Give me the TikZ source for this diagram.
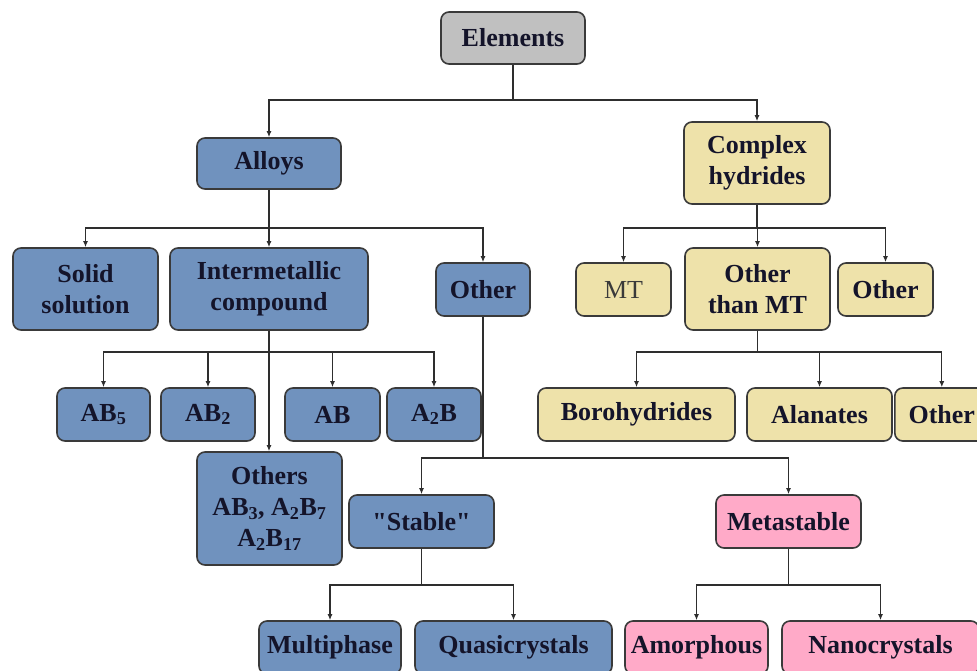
\documentclass[tikz,border=0pt]{standalone}
\usepackage{fontspec}
\setmainfont{Liberation Serif}
\usetikzlibrary{arrows.meta}
\definecolor{bluefill}{HTML}{7092BE}
\definecolor{yelfill}{HTML}{EEE2AA}
\definecolor{pinkfill}{HTML}{FFAAC8}
\definecolor{grayfill}{HTML}{C0C0C0}
\definecolor{edgecol}{HTML}{3A3A3A}
\definecolor{linecol}{HTML}{2E2E2E}
\definecolor{txtcol}{HTML}{14142A}
\tikzset{
  box/.style={draw=edgecol, line width=1.6pt, rounded corners=8pt, align=center,
    inner sep=0pt, text=txtcol, font=\bfseries\fontsize{26}{31}\selectfont},
  bluebox/.style={box, fill=bluefill},
  yelbox/.style={box, fill=yelfill},
  pinkbox/.style={box, fill=pinkfill},
  graybox/.style={box, fill=grayfill},
  conn/.style={draw=linecol, line width=1.3pt},
  arr/.style={conn, -{Latex[length=6pt,width=5pt]}},
  sz/.style 2 args={minimum width=#1pt, minimum height=#2pt}
}
\begin{document}
\begin{tikzpicture}[x=1pt,y=-1pt]
\useasboundingbox (0,0) rectangle (977,670);
\clip (0,0) rectangle (977,670);
\fill[white] (0,0) rectangle (977,670);

% level 0
\node[graybox, sz={144}{52}] (el) at (513,38) {Elements};
% level 1
\node[bluebox, sz={144}{51}] (alloys) at (269,163.5) {Alloys};
\node[yelbox, sz={146}{82}] (ch) at (757,163) {Complex\\hydrides};
% level 2 left
\node[bluebox, sz={145}{82}] (solid) at (85.5,289) {Solid\\solution};
\node[bluebox, sz={198}{82}] (inter) at (269,289) {Intermetallic\\compound};
\node[bluebox, sz={94}{53}] (otherA) at (483,289.5) {Other};
% level 2 right
\node[yelbox, sz={95}{53}, font=\mdseries\fontsize{26}{31}\selectfont, text=edgecol] (mt) at (623.5,289.5) {MT};
\node[yelbox, sz={145}{82}] (otmt) at (757.5,289) {Other\\than MT};
\node[yelbox, sz={95}{53}] (otherB) at (885.5,289.5) {Other};
% level 3 left
\node[bluebox, sz={93}{53}] (ab5) at (103.5,414.5) {AB\textsubscript{5}};
\node[bluebox, sz={94}{53}] (ab2) at (208,414.5) {AB\textsubscript{2}};
\node[bluebox, sz={95}{53}] (ab) at (332.5,414.5) {AB};
\node[bluebox, sz={94}{53}] (a2b) at (434,414.5) {A\textsubscript{2}B};
\node[bluebox, sz={145}{113}] (others) at (269.5,508.5) {Others\\AB\textsubscript{3}, A\textsubscript{2}B\textsubscript{7}\\A\textsubscript{2}B\textsubscript{17}};
% level 3 right
\node[yelbox, sz={197}{53}] (boro) at (636.5,414.5) {Borohydrides};
\node[yelbox, sz={145}{53}] (alan) at (819.5,414.5) {Alanates};
\node[yelbox, sz={94}{53}, anchor=west] (otherC) at (894,414.5) {Other};
% level 4
\node[bluebox, sz={145}{53}] (stable) at (421.5,521.5) {\textquotedbl Stable\textquotedbl};
\node[pinkbox, sz={145}{53}] (meta) at (788.5,521.5) {Metastable};
% level 5
\node[bluebox, sz={142}{53}] (multi) at (330,647.5) {Multiphase};
\node[bluebox, sz={197}{53}] (quasi) at (513.5,647.5) {Quasicrystals};
\node[pinkbox, sz={143}{53}] (amor) at (696.5,647.5) {Amorphous};
\node[pinkbox, sz={197}{53}] (nano) at (880.5,647.5) {Nanocrystals};

% junctions
\coordinate (j0) at (513,100);
\coordinate (j1) at (269,228);
\coordinate (j2) at (757,228);
\coordinate (j3) at (269,352);
\coordinate (j4) at (757.5,352);
\coordinate (j5) at (483,458);
\coordinate (j6) at (421.5,585);
\coordinate (j7) at (788.5,585);

\draw[conn] (el.south) -- (j0);
\draw[arr] (j0) -| (alloys.north);
\draw[arr] (j0) -| (ch.north);

\draw[conn] (alloys.south) -- (j1);
\draw[arr] (j1) -| (solid.north);
\draw[arr] (j1) -- (inter.north);
\draw[arr] (j1) -| (otherA.north);

\draw[conn] (ch.south) -- (j2);
\draw[arr] (j2) -| (mt.north);
\draw[arr] (j2) -| (otmt.north);
\draw[arr] (j2) -| (otherB.north);

\draw[conn] (inter.south) -- (j3);
\draw[arr] (j3) -| (ab5.north);
\draw[arr] (j3) -| (ab2.north);
\draw[arr] (j3) -| (ab.north);
\draw[arr] (j3) -| (a2b.north);
\draw[arr] (j3) -- (j3 |- others.north);

\draw[conn] (otmt.south) -- (j4);
\draw[arr] (j4) -| (boro.north);
\draw[arr] (j4) -| (alan.north);
\draw[arr] (j4) -| (otherC.north);

\draw[conn] (otherA.south) -- (j5);
\draw[arr] (j5) -| (stable.north);
\draw[arr] (j5) -| (meta.north);

\draw[conn] (stable.south) -- (j6);
\draw[arr] (j6) -| (multi.north);
\draw[arr] (j6) -| (quasi.north);

\draw[conn] (meta.south) -- (j7);
\draw[arr] (j7) -| (amor.north);
\draw[arr] (j7) -| (nano.north);
\end{tikzpicture}
\end{document}
